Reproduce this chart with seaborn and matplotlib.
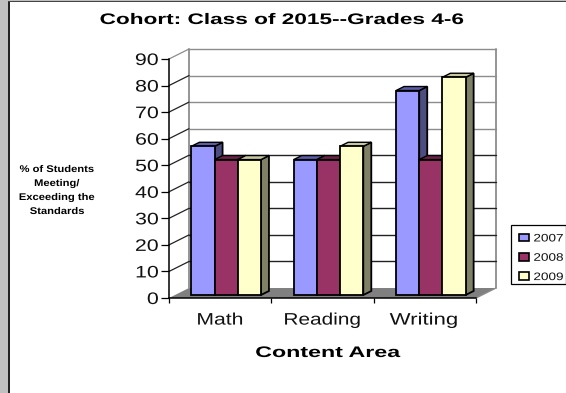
import matplotlib
matplotlib.use("Agg")
import matplotlib.pyplot as plt
import seaborn as sns
import pandas as pd
from matplotlib.patches import Polygon, Rectangle
from matplotlib.patheffects import AbstractPathEffect
from matplotlib.transforms import Affine2D

categories = ["Math", "Reading", "Writing"]
years = ["2007", "2008", "2009"]
values_2007 = [56, 51, 77]
values_2008 = [51, 51, 51]
values_2009 = [51, 56, 82]
front_colors = ["#9999FF", "#993366", "#FFFFCC"]
side_colors = ["#4D4D80", "#4D1A33", "#808066"]
top_colors = ["#5C5CA8", "#6B2347", "#C8C8A0"]
y_ticks = list(range(0, 100, 10))


class Stretch(AbstractPathEffect):
    """Widen real text about a pixel column, as the wide original lettering."""

    def __init__(self, sx, cx):
        super().__init__()
        self.sx, self.cx = sx, cx

    def draw_path(self, renderer, gc, tpath, affine, rgbFace=None):
        extra = Affine2D().translate(-self.cx, 0).scale(self.sx, 1).translate(self.cx, 0)
        renderer.draw_path(gc, tpath, affine + extra, rgbFace)


sns.set_style("white")
plt.rcParams["font.family"] = ["Liberation Sans", "DejaVu Sans"]

W, H = 566, 393
fig = plt.figure(figsize=(W / 100, H / 100), dpi=100, facecolor="white")
ax = fig.add_axes([169 / W, (H - 298) / H, 307 / W, 239 / H], facecolor="none")

df = pd.DataFrame({
    "area": categories * 3,
    "year": [y for y in years for _ in categories],
    "value": values_2007 + values_2008 + values_2009,
})
sns.barplot(data=df, x="area", y="value", hue="year", order=categories, hue_order=years,
            palette=front_colors, saturation=1, width=0.68, gap=0, dodge=True,
            edgecolor="black", linewidth=1.3, ax=ax, legend=True, errorbar=None, zorder=5)
ax.set_xlim(-0.5, 2.5)
ax.set_ylim(0, 90)

px_x = 3 / 307
px_y = 90 / 239
wall_dx, wall_dy = 20 * px_x, 10 * px_y
x0, x1 = -0.5, 2.5
GRAY = "#8C8C8C"

# floor and back wall
ax.add_patch(Polygon([(x0, 0), (x0 + wall_dx, wall_dy), (x1 + wall_dx, wall_dy), (x1, 0)],
                     closed=True, fc="#808080", ec="none", clip_on=False, zorder=1))
ax.plot([x0 + wall_dx, x0 + wall_dx], [wall_dy, 90 + wall_dy], color=GRAY, lw=1.3, clip_on=False, zorder=2)
ax.plot([x1 + wall_dx, x1 + wall_dx], [wall_dy, 90 + wall_dy], color=GRAY, lw=1.3, clip_on=False, zorder=2)
ax.plot([x1, x1 + wall_dx], [0, wall_dy], color=GRAY, lw=1, clip_on=False, zorder=2)
for t in y_ticks[1:]:
    c = GRAY if t >= 60 else "#222222"
    ax.plot([x0 + wall_dx, x1 + wall_dx], [t + wall_dy] * 2, color=c, lw=1, clip_on=False, zorder=2)
    ax.plot([x0, x0 + wall_dx], [t, t + wall_dy], color=GRAY if t == 90 else "#222222", lw=0.9,
            clip_on=False, zorder=2)

# bars: shift forward-plane faces and add 3-D sides
shift = Affine2D().translate(6, 3)
tf = ax.transData + shift
depth_x, depth_y = 8 * px_x, 4 * px_y
for s, cont in enumerate(ax.containers):
    for bar in cont:
        z = 5 + s * 2
        bar.set_transform(tf)
        bar.set_zorder(z)
        bar.set_clip_on(False)
        bx, bw, bh = bar.get_x(), bar.get_width(), bar.get_height()
        ax.add_patch(Polygon([(bx + bw, 0), (bx + bw + depth_x, depth_y),
                              (bx + bw + depth_x, bh + depth_y), (bx + bw, bh)],
                             closed=True, fc=side_colors[s], ec="black", lw=1.3,
                             transform=tf, zorder=z - 1, clip_on=False))
        ax.add_patch(Polygon([(bx, bh), (bx + depth_x, bh + depth_y),
                              (bx + bw + depth_x, bh + depth_y), (bx + bw, bh)],
                             closed=True, fc=top_colors[s], ec="black", lw=1.0,
                             transform=tf, zorder=z - 1, clip_on=False))

# axes
sns.despine(ax=ax, top=True, right=True)
for sp in ("left", "bottom"):
    ax.spines[sp].set_color("black")
    ax.spines[sp].set_linewidth(1.1)
    ax.spines[sp].set_zorder(20)
ax.set_yticks(y_ticks)
ax.set_xticks([-0.5, 0.5, 1.5, 2.5], minor=False)
ax.set_xticklabels([])
ax.set_xticks([0, 1, 2], minor=True)
ax.set_xticklabels(categories, minor=True, fontsize=12, color="#111111")
ax.tick_params(axis="x", which="major", length=3.5, width=0.9, color="black", bottom=True)
ax.tick_params(axis="x", which="minor", length=0, pad=10.5)
ax.tick_params(axis="y", length=5.5, width=0.9, color="black", left=True, labelsize=12, pad=2, labelcolor="#111111")

for lab, cx, sx in zip(ax.get_xticklabels(minor=True), [221, 323, 427], [1.27, 1.25, 1.33]):
    lab.set_path_effects([Stretch(sx, cx)])
for lab in ax.get_yticklabels():
    lab.set_path_effects([Stretch(1.28, 158)])

ax.set_xlabel("Content Area", fontsize=11, fontweight="bold", labelpad=0, color="black")
ax.xaxis.set_label_coords((327.5 - 169) / 307, (298 - 353) / 239, transform=ax.transAxes)
ax.xaxis.label.set_va("center")
ax.xaxis.label.set_path_effects([Stretch(1.52, 327.5)])
ax.set_ylabel("% of Students\nMeeting/\nExceeding the\nStandards", rotation=0, fontsize=7,
              fontweight="bold", ha="center", va="center", linespacing=1.5, color="black")
ax.yaxis.set_label_coords((57 - 169) / 307, (298 - 190) / 239, transform=ax.transAxes)
ax.yaxis.label.set_path_effects([Stretch(1.15, 57)])

title = fig.text(282 / W, 1 - 20 / H, "Cohort: Class of 2015--Grades 4-6", ha="center", va="center",
                 fontsize=11, fontweight="bold", color="black")
title.set_path_effects([Stretch(1.48, 282)])

# legend: separate frame so the box and the rows sit where the original has them
fig.add_artist(Rectangle((511 / W, (H - 284) / H), 54.5 / W, 59 / H, transform=fig.transFigure,
                         fc="white", ec="black", lw=0.9, zorder=1))
handles, labels = ax.get_legend_handles_labels()
ax.get_legend().remove()
leg = fig.legend(handles, labels, loc="upper left", bbox_to_anchor=(515 / W, (H - 229) / H),
                 borderaxespad=0, frameon=False,
                 fontsize=7.8, handlelength=0.85, handleheight=0.7, handletextpad=0.45,
                 labelspacing=0.86, borderpad=0.41)
leg.set_zorder(5)
for h in leg.legend_handles:
    h.set_edgecolor("black")
    h.set_linewidth(1.2)
for t in leg.get_texts():
    t.set_path_effects([Stretch(1.25, 534)])
    t.set_color("#111111")

# page edge
fig.add_artist(Rectangle((0, 0), 8 / W, 1, transform=fig.transFigure, fc="#C0C0C0", ec="none"))
fig.add_artist(Rectangle((0, 1 - 2 / H), 1, 2 / H, transform=fig.transFigure, fc="#C0C0C0", ec="none"))
fig.add_artist(Rectangle((8 / W, 0), 1.5 / W, 1 - 1 / H, transform=fig.transFigure, fc="#222222", ec="none"))
fig.add_artist(Rectangle((8 / W, 1 - 2.2 / H), 1, 1.2 / H, transform=fig.transFigure, fc="#444444", ec="none"))

fig.savefig("out.png", dpi=100)
